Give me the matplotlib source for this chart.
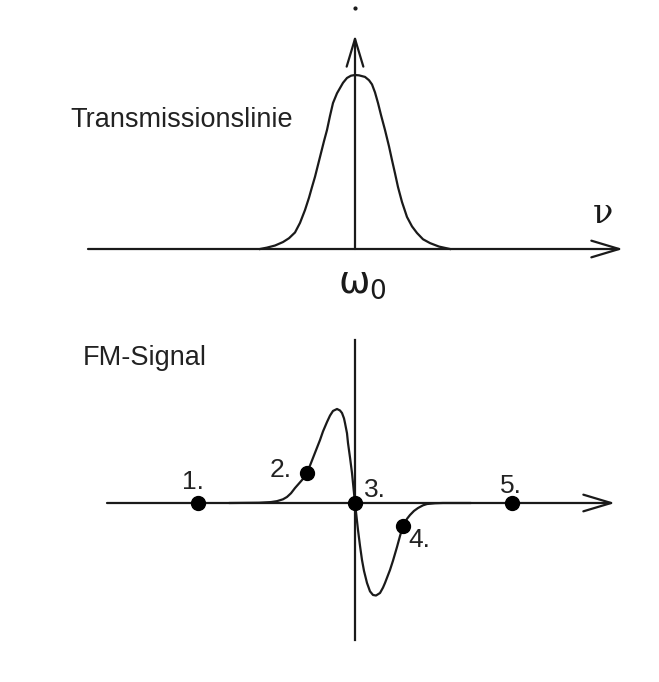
import numpy as np
import matplotlib.pyplot as plt
from matplotlib.patches import FancyArrowPatch

plt.rcParams['font.family'] = ['Liberation Sans', 'DejaVu Sans']
plt.rcParams['mathtext.fontset'] = 'dejavusans'

# Transmission line (top) - detuning in a.u., omega_0 at 0
trans_x = [-2.375, -2.2, -2.0, -1.8, -1.65, -1.5, -1.375, -1.25, -1.15, -1.075, -1.0,
           -0.875, -0.775, -0.7, -0.625, -0.55, -0.45, -0.375, -0.3, -0.2, -0.1, 0.0,
           0.1, 0.25, 0.35, 0.425, 0.5, 0.575, 0.65, 0.75, 0.85, 0.925, 1.0,
           1.075, 1.175, 1.3, 1.425, 1.55, 1.7, 1.875, 2.1, 2.375]
trans_y = [0.0, 0.008, 0.02, 0.040, 0.062, 0.095, 0.150, 0.224, 0.295, 0.356, 0.415,
           0.529, 0.62, 0.684, 0.765, 0.839, 0.895, 0.925, 0.955, 0.983, 0.996, 1.0,
           0.998, 0.989, 0.97, 0.946, 0.900, 0.839, 0.77, 0.684, 0.59, 0.511, 0.435,
           0.356, 0.27, 0.184, 0.13, 0.092, 0.056, 0.034, 0.014, 0.0]

# FM signal (bottom)
fm_x = [-3.125, -2.4, -2.1, -1.95, -1.8, -1.7, -1.6, -1.5, -1.4, -1.325, -1.2,
        -1.1, -1.0, -0.875, -0.8, -0.7, -0.625, -0.55, -0.45, -0.375, -0.325,
        -0.275, -0.25, -0.2, -0.175, -0.125, -0.075, 0.0, 0.075, 0.125, 0.175,
        0.225, 0.3, 0.375, 0.45, 0.525, 0.625, 0.7, 0.75, 0.875, 0.95, 1.05,
        1.125, 1.2, 1.3, 1.375, 1.475, 1.575, 1.7, 1.8, 2.0, 2.2, 2.875]
fm_y = [0.0, 0.003, 0.01, 0.02, 0.04, 0.065, 0.105, 0.161, 0.21, 0.247, 0.323,
        0.43, 0.54, 0.677, 0.77, 0.871, 0.94, 0.99, 1.011, 0.995, 0.968,
        0.91, 0.86, 0.75, 0.645, 0.49, 0.323, 0.0, -0.29, -0.46, -0.613,
        -0.73, -0.86, -0.95, -0.989, -0.995, -0.968, -0.91, -0.86, -0.72, -0.62, -0.473,
        -0.355, -0.247, -0.17, -0.129, -0.085, -0.054, -0.025, -0.011, -0.003, 0.0, 0.0]

# marked points 1.-5.
pt_labels = ["1.", "2.", "3.", "4.", "5."]
pt_x = [-3.925, -1.2, 0.0, 1.2, 3.925]
pt_y = [0.0, 0.323, 0.0, -0.247, 0.0]
lab_off = [(-4, 15), (-19, 2), (14, 9), (12, -10), (-1, 12)]

ink = "#1a1a1a"
lw = 1.6

fig = plt.figure(figsize=(6.59, 6.82), dpi=100)

def arrow(ax, p0, p1):
    a = FancyArrowPatch(p0, p1, arrowstyle="->,head_length=1.0,head_width=0.3",
                        mutation_scale=20, lw=lw, color=ink,
                        shrinkA=0, shrinkB=0)
    ax.add_patch(a)

# Top panel
# -------------------------------------------------------------------
ax1 = fig.add_axes([0, 362/682, 1, 320/682])
ax1.set_xlim(-8.875, 7.6)
ax1.set_ylim(-0.408, 1.431)
ax1.axis("off")

arrow(ax1, (-6.675, 0), (6.7, 0))
arrow(ax1, (0, 0), (0, 1.23))
ax1.plot([0], [1.385], marker="o", ms=2, color=ink)
ax1.plot(trans_x, trans_y, color=ink, lw=lw, solid_joinstyle="round")

ax1.text(-7.125, 0.701, "Transmissionslinie", fontsize=19.5, color="#222222",
         ha="left", va="baseline")
ax1.text(0.18, -0.253, r"$\mathrm{ω}_\mathrm{0}$", fontsize=27,
         color=ink, ha="center", va="baseline")
ax1.text(6.2, 0.149, "ν", fontsize=24, family="DejaVu Serif",
         color=ink, ha="center", va="baseline")

# Bottom panel
# -------------------------------------------------------------------
ax2 = fig.add_axes([0, 0, 1, 362/682])
ax2.set_xlim(-8.875, 7.6)
ax2.set_ylim(-1.925, 1.968)
ax2.axis("off")

arrow(ax2, (-6.2, 0), (6.5, 0))
ax2.plot([0, 0], [-1.473, 1.753], color=ink, lw=lw)
ax2.plot(fm_x, fm_y, color=ink, lw=lw, solid_joinstyle="round")
ax2.plot(pt_x, pt_y, "o", ms=10, color="black", zorder=5)
for lab, x, y, off in zip(pt_labels, pt_x, pt_y, lab_off):
    ax2.annotate(lab, (x, y), xytext=off, textcoords="offset points",
                 fontsize=19, color="#222222", ha="center", va="center")

ax2.text(-6.8, 1.484, "FM-Signal", fontsize=19.5, color="#222222",
         ha="left", va="baseline")

fig.savefig("out.png", dpi=100)
